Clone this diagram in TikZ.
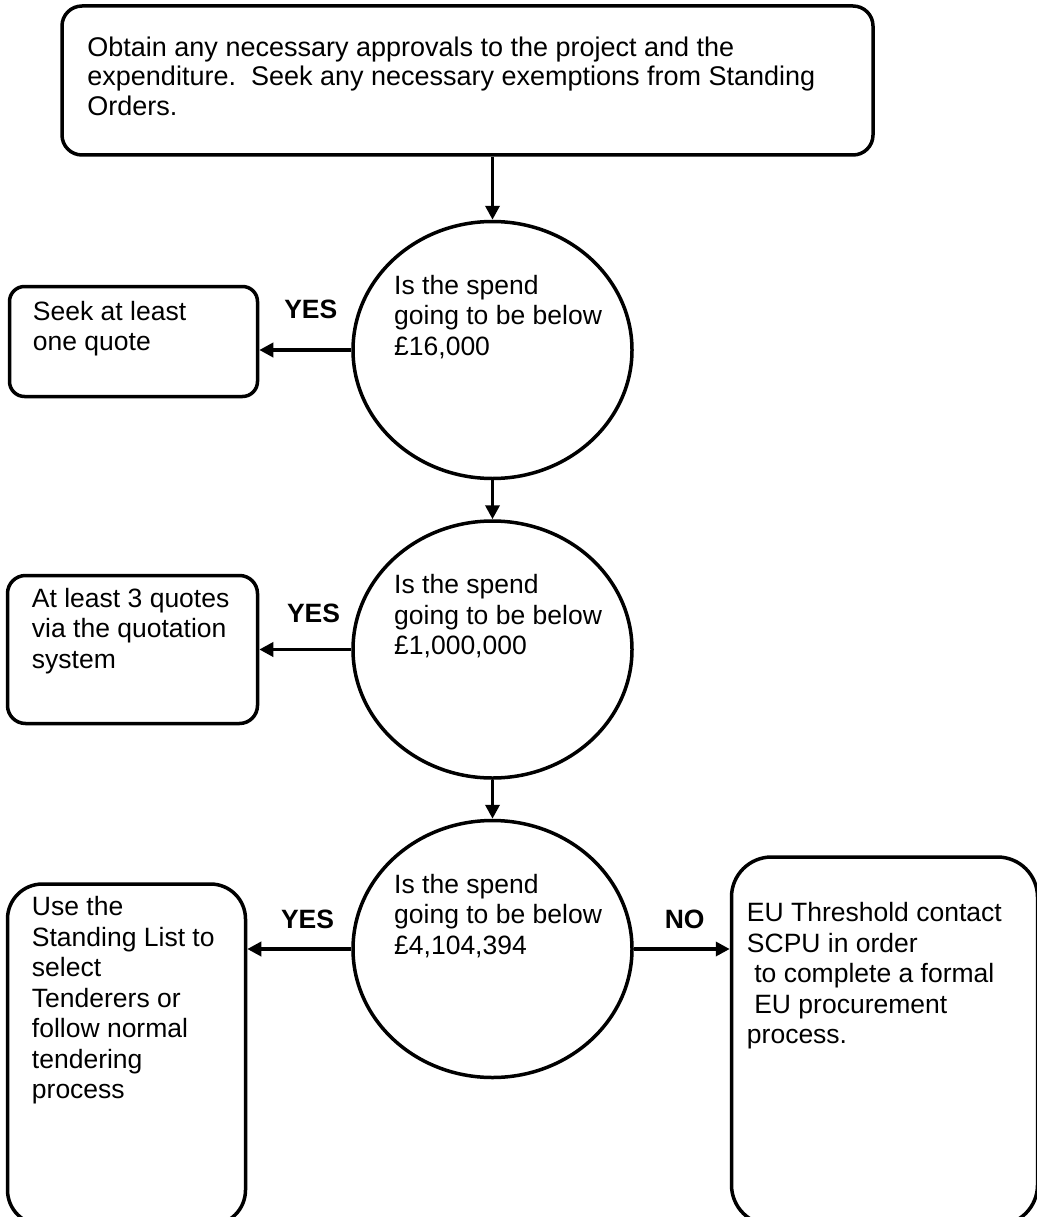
\documentclass[tikz,border=0pt]{standalone}
\usepackage{fontspec}
\setmainfont{Liberation Sans}
\usetikzlibrary{shapes.geometric, arrows.meta, positioning}
\tikzset{
	box/.style={rectangle, draw, line width=3.5pt, rounded corners=18pt, inner sep=0pt},
	question/.style={ellipse, draw, line width=3.5pt, minimum width=279pt, minimum height=257pt, inner sep=0pt},
	txt/.style={inner sep=0pt, align=left, font=\fontsize{26.5}{30.5}\selectfont},
	lbl/.style={inner sep=0pt, font=\fontsize{26.5}{30.5}\selectfont\bfseries},
	line/.style={draw, line width=3.5pt, -{Triangle[length=14pt, width=14pt]}}
}

\begin{document}
\begin{tikzpicture}[x=1pt, y=1pt]
		\useasboundingbox (0,0) rectangle (1036,-1217);
		
		% Top box - approvals
		\node[box, rounded corners=20pt, minimum width=811pt, minimum height=149pt] (approve) at (467.5,-80.5) {};
		\node[txt, font=\fontsize{27}{29.5}\selectfont, below right=32pt and 27pt of approve.north west] (approve_txt) {Obtain any necessary approvals to the project and the\\expenditure.\ \ Seek any necessary exemptions from Standing\\Orders.};
		
		% Middle column - spend questions
		\node[question, below=63pt of approve, xshift=25pt] (q1) {};
		\node[question, below=39pt of q1] (q2) {};
		\node[question, below=39pt of q2] (q3) {};
		\node[txt, below right=55pt and -98.5pt of q1.north] (q1_txt) {Is the spend\\going to be below\\£16,000};
		\node[txt, below right=55pt and -98.5pt of q2.north] (q2_txt) {Is the spend\\going to be below\\£1,000,000};
		\node[txt, below right=55pt and -98.5pt of q3.north] (q3_txt) {Is the spend\\going to be below\\£4,104,394};
		
		% Left side - YES outcomes
		\node[box, rounded corners=15pt, minimum width=248pt, minimum height=110pt, left=92pt of q1, yshift=8.5pt] (seek) {};
		\node[txt, below right=16pt and 25pt of seek.north west] (seek_txt) {Seek at least\\one quote};
		\node[box, minimum width=250pt, minimum height=148pt, left=92pt of q2] (quotes) {};
		\node[txt, below right=14pt and 26pt of quotes.north west] (quotes_txt) {At least 3 quotes\\via the quotation\\system};
		\node[box, rounded corners=35pt, minimum width=238pt, minimum height=341pt, left=104pt of q3, yshift=-105.5pt] (tender) {};
		\node[txt, below right=14pt and 26pt of tender.north west] (tender_txt) {Use the\\Standing List to\\select\\Tenderers or\\follow normal\\tendering\\process};
		
		% Right side - NO outcome
		\node[box, rounded corners=40pt, minimum width=306pt, minimum height=368pt, right=96pt of q3, yshift=-92pt] (eu) {};
		\node[txt, below right=47pt and 17pt of eu.north west] (eu_txt) {EU Threshold contact\\SCPU in order\\\ to complete a formal\\\ EU procurement\\process.};
		
		% Arrows down the middle
		\draw[line] (approve.south -| q1.north) -- (q1.north);
		\draw[line] (q1.south) -- (q2.north);
		\draw[line] (q2.south) -- (q3.north);
		
		% Arrows to the outcomes
		\draw[line] (q1.west) -- node[lbl, above=29pt, pos=0.44] (yes1) {YES} (q1.west -| seek.east);
		\draw[line] (q2.west) -- node[lbl, above=25pt, pos=0.41] (yes2) {YES} (q2.west -| quotes.east);
		\draw[line] (q3.west) -- node[lbl, above=19pt, pos=0.42] (yes3) {YES} (q3.west -| tender.east);
		\draw[line] (q3.east) -- node[lbl, above=19pt, pos=0.53] (no) {NO} (q3.east -| eu.west);
		
\end{tikzpicture}
\end{document}
